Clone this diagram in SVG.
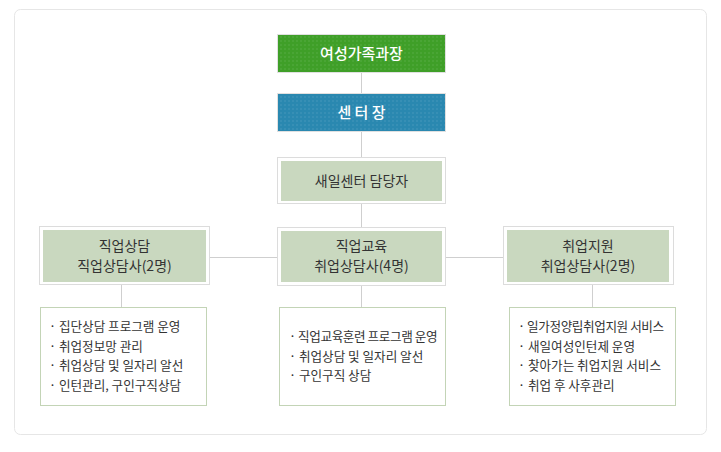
<svg xmlns="http://www.w3.org/2000/svg" width="721" height="452" viewBox="0 0 721 452">
<style>
text{font-family:"Noto Sans CJK KR","Noto Sans",sans-serif;}
.ttl{font-size:15px;fill:#fff;text-anchor:middle;font-weight:500;}
.hd{font-size:14px;fill:#333;text-anchor:middle;}
.li{font-size:12.6px;fill:#333;}
.frame{fill:#fff;stroke:#dcdcdc;stroke-width:1;}
.inner{fill:#c9d8bf;}
.list{fill:#fff;stroke:#c3d4b6;stroke-width:1;}
.conn line{stroke:#cfcfcf;stroke-width:1;}
</style>
<defs>
<pattern id="dots" width="4" height="4" patternUnits="userSpaceOnUse">
<rect x="0" y="0" width="2" height="2" fill="#ffffff" fill-opacity="0.06"/>
</pattern>
</defs>
<rect x="14.5" y="9.5" width="692" height="425" rx="6" fill="#fff" stroke="#e6e6e6"/>
<g class="conn">
<line x1="361.5" y1="72" x2="361.5" y2="94"/>
<line x1="361.5" y1="131" x2="361.5" y2="157"/>
<line x1="361.5" y1="204" x2="361.5" y2="227"/>
<line x1="361.5" y1="285" x2="361.5" y2="307"/>
<line x1="209" y1="257.5" x2="278" y2="257.5"/>
<line x1="445" y1="257.5" x2="503" y2="257.5"/>
<line x1="121.5" y1="284" x2="121.5" y2="307"/>
<line x1="592.5" y1="285" x2="592.5" y2="307"/>
</g>
<g id="n-director">
<rect x="277.5" y="34.5" width="168" height="38" fill="#fff" stroke="#e0e0e0"/>
<rect x="278" y="35" width="167" height="37" fill="#3f9f28"/>
<rect x="278" y="35" width="167" height="37" fill="url(#dots)"/>
<text class="ttl" x="361.5" y="58.5">여성가족과장</text>
</g>
<g id="n-center">
<rect x="277.5" y="93.5" width="168" height="38" fill="#fff" stroke="#e0e0e0"/>
<rect x="278" y="94" width="167" height="37" fill="#2a88b0"/>
<rect x="278" y="94" width="167" height="37" fill="url(#dots)"/>
<text class="ttl" x="361.5" y="117.5">센 터 장</text>
</g>
<g id="n-manager">
<rect class="frame" x="277.5" y="157.5" width="168" height="46"/>
<rect class="inner" x="281" y="161" width="161" height="40"/>
<text class="hd" x="361.5" y="186">새일센터 담당자</text>
</g>
<g id="n-counsel">
<rect class="frame" x="39.5" y="226.5" width="170" height="58"/>
<rect class="inner" x="43" y="230" width="163" height="52"/>
<text class="hd" x="124.5" y="250.5">직업상담</text>
<text class="hd" x="124.5" y="270.5">직업상담사(2명)</text>
</g>
<g id="n-edu">
<rect class="frame" x="277.5" y="227.5" width="168" height="58"/>
<rect class="inner" x="281" y="231" width="161" height="51"/>
<text class="hd" x="361.5" y="251">직업교육</text>
<text class="hd" x="361.5" y="271">취업상담사(4명)</text>
</g>
<g id="n-support">
<rect class="frame" x="503.5" y="226.5" width="170" height="58"/>
<rect class="inner" x="507" y="230" width="162" height="52"/>
<text class="hd" x="588" y="250.5">취업지원</text>
<text class="hd" x="588" y="270.5">취업상담사(2명)</text>
</g>
<g id="n-list-counsel">
<rect class="list" x="40.5" y="307.5" width="166" height="98"/>
<text class="li" x="49" y="331">· 집단상담 프로그램 운영</text>
<text class="li" x="49" y="350.5">· 취업정보망 관리</text>
<text class="li" x="49" y="370">· 취업상담 및 일자리 알선</text>
<text class="li" x="49" y="389.5">· 인턴관리, 구인구직상담</text>
</g>
<g id="n-list-edu">
<rect class="list" x="279.5" y="307.5" width="166" height="98"/>
<text class="li" x="289" y="341" style="letter-spacing:-0.4px">· 직업교육훈련 프로그램 운영</text>
<text class="li" x="289" y="360.5">· 취업상담 및 일자리 알선</text>
<text class="li" x="289" y="380">· 구인구직 상담</text>
</g>
<g id="n-list-support">
<rect class="list" x="509.5" y="307.5" width="166" height="98"/>
<text class="li" x="518" y="331" style="letter-spacing:-0.4px">· 일가정양립취업지원 서비스</text>
<text class="li" x="518" y="350.5">· 새일여성인턴제 운영</text>
<text class="li" x="518" y="370">· 찾아가는 취업지원 서비스</text>
<text class="li" x="518" y="389.5">· 취업 후 사후관리</text>
</g>
</svg>
